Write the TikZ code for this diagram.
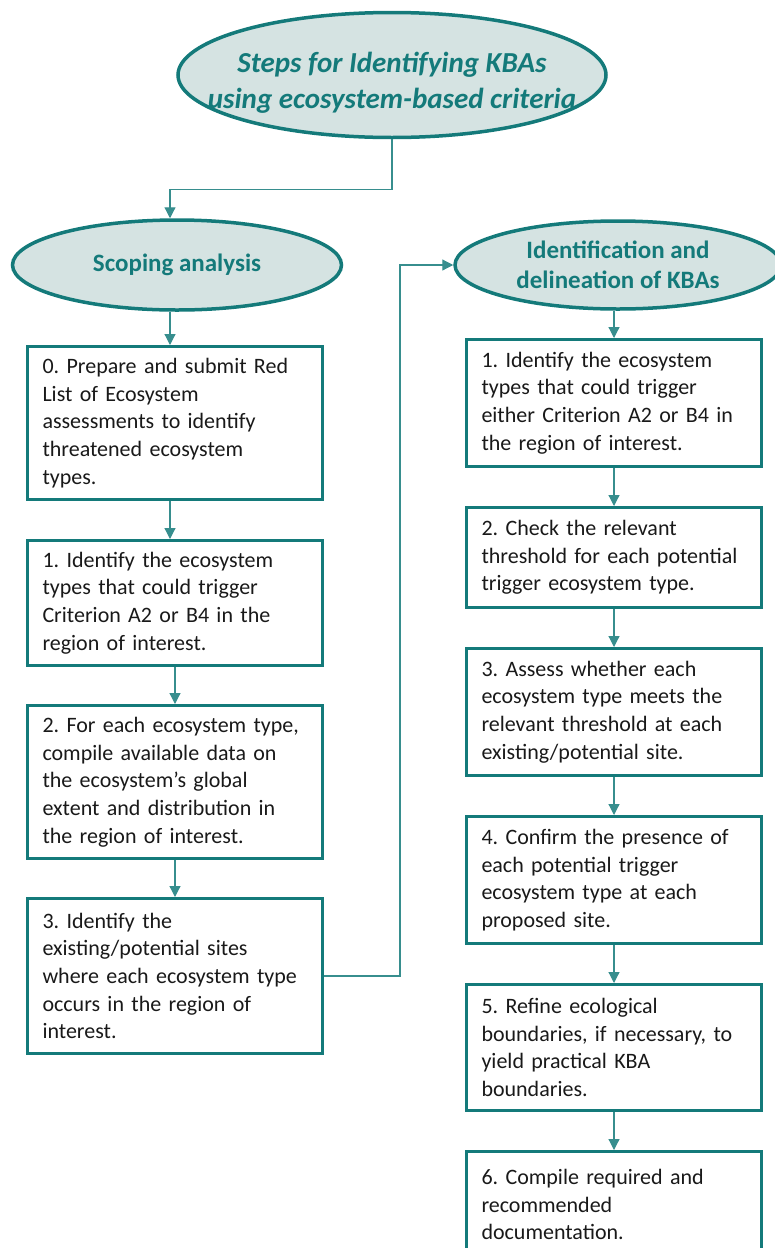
\documentclass[tikz,border=0pt]{standalone}
\usepackage{fontspec}
\setmainfont{Carlito}
\usetikzlibrary{shapes.geometric,arrows.meta}
\definecolor{kbateal}{RGB}{20,122,122}
\definecolor{kbafill}{RGB}{213,227,226}
\definecolor{kbatext}{RGB}{25,25,25}
\frenchspacing
\begin{document}
\begin{tikzpicture}[x=1pt,y=-1pt,
  headbox/.style={ellipse,draw=kbateal,fill=kbafill,line width=3.5pt,inner xsep=-40pt,inner ysep=-10pt,align=center,text=kbateal,font=\fontsize{25}{30}\selectfont\bfseries},
  stepbox/.style={rectangle,draw=kbateal,line width=3pt,anchor=north west,inner xsep=15pt,text width=265pt,align=left,text=kbatext,font=\fontsize{22}{27.7}\selectfont},
  link/.style={draw=kbateal!85!white,line width=1.2pt,-{Triangle[width=11pt,length=11pt]}}]
  \useasboundingbox (0,0) rectangle (774,1248);
  \node[headbox,minimum width=428pt,minimum height=125pt,font=\fontsize{29}{36}\selectfont\bfseries\itshape] (title) at (392,75) {\rule{0pt}{36pt}Steps for Identifying KBAs\\using ecosystem-based criteria};
  \node[headbox,minimum width=329pt,minimum height=90pt] (scoping) at (177,265) {Scoping analysis};
  \node[headbox,minimum width=326pt,minimum height=88pt] (ident) at (618,265) {Identification and\\delineation of KBAs};
  % scoping steps
  \node[stepbox,minimum height=153pt] (s0) at (26,345) {0. Prepare and submit Red\\List of Ecosystem\\assessments to identify\\threatened ecosystem\\types.};
  \node[stepbox,minimum height=125pt] (s1) at (26,539) {1. Identify the ecosystem\\types that could trigger\\Criterion A2 or B4 in the\\region of interest.};
  \node[stepbox,minimum height=153pt] (s2) at (26,704) {2. For each ecosystem type,\\compile available data on\\the ecosystem’s global\\extent and distribution in\\the region of interest.};
  \node[stepbox,minimum height=155pt] (s3) at (26,897) {3. Identify the\\existing/potential sites\\where each ecosystem type\\occurs in the region of\\interest.};
  % identification steps
  \node[stepbox,minimum height=127pt] (d1) at (465,338) {1. Identify the ecosystem\\types that could trigger\\either Criterion A2 or B4 in\\the region of interest.};
  \node[stepbox,minimum height=100pt] (d2) at (465,506) {2. Check the relevant\\threshold for each potential\\trigger ecosystem type.};
  \node[stepbox,minimum height=127pt] (d3) at (465,647) {3. Assess whether each\\ecosystem type meets the\\relevant threshold at each\\existing/potential site.};
  \node[stepbox,minimum height=127pt] (d4) at (465,815) {4. Confirm the presence of\\each potential trigger\\ecosystem type at each\\proposed site.};
  \node[stepbox,minimum height=126pt] (d5) at (465,983) {5. Refine ecological\\boundaries, if necessary, to\\yield practical KBA\\boundaries.};
  \node[stepbox,minimum height=106pt] (d6) at (465,1150) {6. Compile required and\\recommended\\documentation.};
  % connectors
  \draw[link] (title.south) -- ++(0,50) -| ([xshift=-5pt]s0.north |- scoping.north);
  \draw[link] ([xshift=-5pt]s0.north |- scoping.south) -- ([xshift=-5pt]s0.north);
  \draw[link] ([xshift=-5pt]s0.south) -- ([xshift=-5pt]s1.north);
  \draw[link] (s1) -- (s2);
  \draw[link] (s2) -- (s3);
  \draw[link] (s3.east) -- ++(76,0) |- (ident.west);
  \draw[link] (d1.north |- ident.south) -- (d1.north);
  \draw[link] (d1) -- (d2);
  \draw[link] (d2) -- (d3);
  \draw[link] (d3) -- (d4);
  \draw[link] (d4) -- (d5);
  \draw[link] (d5) -- (d6);
\end{tikzpicture}
\end{document}
